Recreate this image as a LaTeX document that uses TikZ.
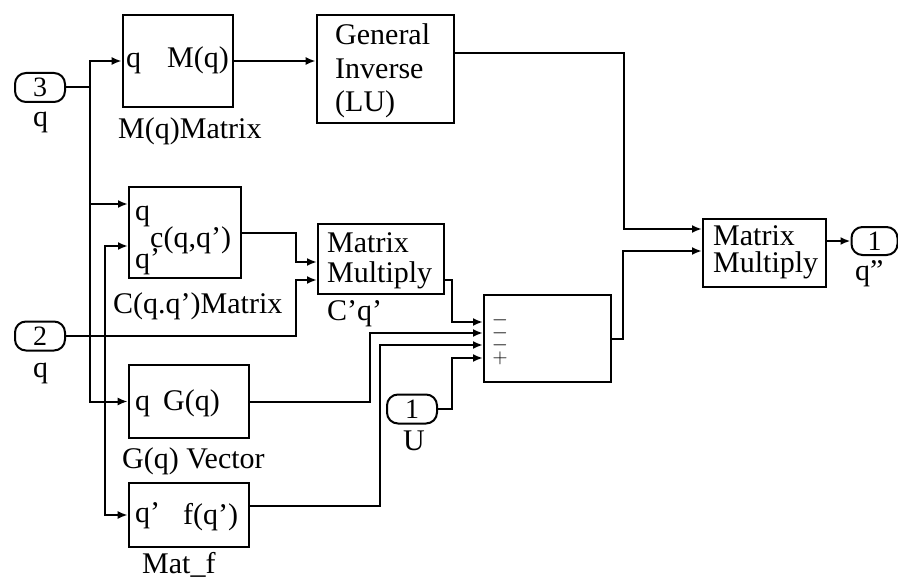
\documentclass[tikz,border=0pt]{standalone}
\usepackage{fontspec}
\setmainfont{Liberation Serif}
\usetikzlibrary{arrows.meta}
\newcommand\fsz[1]{\fontsize{#1}{#1}\selectfont}
\begin{document}
\begin{tikzpicture}[x=1pt,y=-1pt,
  blk/.style={draw, line width=2.6pt, inner sep=0pt},
  port/.style={draw, line width=2pt, rounded corners=11pt, inner sep=0pt, minimum width=50pt, minimum height=29pt, font=\fsz{28}},
  wire/.style={line width=2pt},
  arr/.style={wire, -{Latex[length=10pt,width=8pt]}},
  txt/.style={inner sep=0pt, anchor=base west, font=\fsz{30}},
  sgn/.style={inner sep=0pt, anchor=center, font=\fsz{21}}]
\path[fill=white, use as bounding box] (0,0) rectangle (898,586);

% blocks
\node[blk, minimum width=110pt, minimum height=92pt] (Mq) at (178,61) {};
\node[txt] (Mqa) at (126,68) {q};
\node[txt] (Mqb) at (167,68) {M(q)};
\node[txt] (Mql) at (118,139) {M(q)Matrix};

\node[blk, minimum width=137pt, minimum height=108pt] (GI) at (385.5,69) {};
\node[txt] (GIa) at (335,45) {General};
\node[txt] (GIb) at (335,79) {Inverse};
\node[txt] (GIc) at (335,112) {(LU)};

\node[blk, minimum width=112pt, minimum height=91pt] (Cq) at (185,232.5) {};
\node[txt] (Cqa) at (135,220) {q};
\node[txt] (Cqb) at (150,247) {c(q,q')};
\node[txt] (Cqc) at (135,268) {q'};
\node[txt] (Cql) at (113,313) {C(q.q')Matrix};

\node[blk, minimum width=126pt, minimum height=70pt] (MM1) at (381,259) {};
\node[txt] (MM1a) at (327,252) {Matrix};
\node[txt] (MM1b) at (327,282) {Multiply};
\node[txt] (MM1l) at (327,320) {C'q'};

\node[blk, minimum width=127pt, minimum height=87pt] (Sum) at (547.5,338.5) {};
\node[sgn] (s1) at (500,320.5) {$-$};
\node[sgn] (s2) at (500,333) {$-$};
\node[sgn] (s3) at (500,345.5) {$-$};
\node[sgn] (s4) at (500,358) {$+$};

\node[blk, minimum width=123pt, minimum height=68pt] (MM2) at (764.5,253) {};
\node[txt] (MM2a) at (713,245) {Matrix};
\node[txt] (MM2b) at (713,272) {Multiply};

\node[blk, minimum width=120pt, minimum height=73pt] (Gq) at (189,401.5) {};
\node[txt] (Gqa) at (135,410) {q};
\node[txt] (Gqb) at (163,410) {G(q)};
\node[txt] (Gql) at (122,468) {G(q) Vector};

\node[blk, minimum width=120pt, minimum height=64pt] (Mf) at (189,515) {};
\node[txt] (Mfa) at (135,522) {q'};
\node[txt] (Mfb) at (183,524) {f(q')};
\node[txt] (Mfl) at (142,573) {Mat\_f};

% ports
\node[port] (P3) at (40,87.5) {3};
\node[txt] (P3l) at (33,127) {q};
\node[port] (P2) at (40,336) {2};
\node[txt] (P2l) at (33,377) {q};
\node[port] (PU) at (412,409) {1};
\node[txt] (PUl) at (403,450) {U};
\node[port, minimum width=46pt, minimum height=28pt] (PO) at (874.5,241) {1};
\node[txt] (POl) at (855,280) {q''};

% port coordinates
\coordinate (ci1) at (128,204);
\coordinate (ci2) at (128,246);
\coordinate (m1i1) at (317,262);
\coordinate (m1i2) at (317,280);
\coordinate (m1o) at (445,280);
\coordinate (gio) at (455,53);
\coordinate (m2i1) at (702,229);
\coordinate (m2i2) at (702,251);
\coordinate (m2o) at (827,241);
\coordinate (mfo) at (250,506);
\coordinate (si1) at (483,322);
\coordinate (si2) at (483,333);
\coordinate (si3) at (483,345);
\coordinate (si4) at (483,358);

% connectors
\draw[wire] (P3.east) -- (90,87.5) coordinate (j3);
\draw[arr] (j3) |- (Mq.west);
\draw[arr] (j3) |- (ci1);
\draw[arr] (j3) |- (Gq.west);
\draw[arr] (Mq.east) -- (Mq.east -| GI.west);
\draw[arr] (gio) -- (624,53) |- (m2i1);
\draw[arr] (Cq.east) -- ++(54,0) |- (m1i1);
\draw[wire] (P2.east) -- (105,336) coordinate (j2);
\draw[arr] (j2) -| (296,280) -- (m1i2);
\draw[arr] (j2) |- (ci2);
\draw[arr] (j2) |- (Mf.west);
\draw[arr] (m1o) -- (452,280) |- (si1);
\draw[arr] (Gq.east) -| (370,333) -- (si2);
\draw[arr] (mfo) -| (380,345) -- (si3);
\draw[arr] (PU.east) -| (452,358) -- (si4);
\draw[arr] (Sum.east) -| (623,251) -- (m2i2);
\draw[arr] (m2o) -- (PO.west);
\end{tikzpicture}
\end{document}
